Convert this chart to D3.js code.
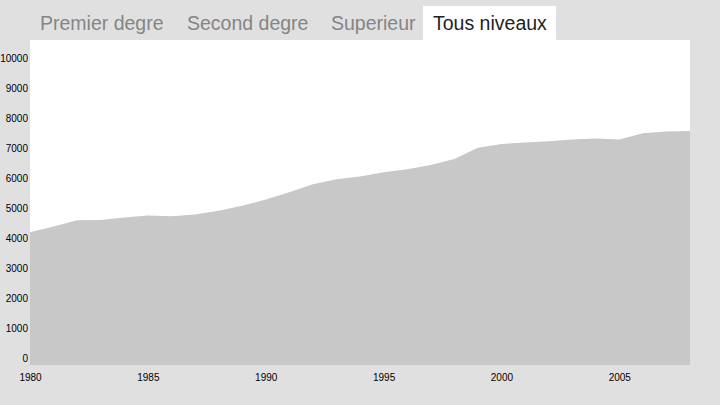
<!DOCTYPE html>
<html>
<head>
<meta charset="utf-8">
<script src="https://cdn.jsdelivr.net/npm/d3@7/dist/d3.min.js"></script>
<style>
  html, body { margin: 0; padding: 0; background: #e0e0e0; }
  svg { display: block; }
</style>
</head>
<body>
<svg id="chart" width="720" height="405"></svg>
<script>
const tabs = ["Premier degre", "Second degre", "Superieur", "Tous niveaux"];
const activeTab = 3;
const years = [1980,1981,1982,1983,1984,1985,1986,1987,1988,1989,1990,1991,1992,1993,1994,1995,1996,1997,1998,1999,2000,2001,2002,2003,2004,2005,2006,2007,2008];
const values = [4200,4390,4600,4610,4690,4760,4730,4790,4920,5080,5290,5530,5800,5965,6060,6200,6300,6440,6640,7010,7140,7190,7230,7290,7325,7290,7500,7550,7570];
const yTicks = [0,1000,2000,3000,4000,5000,6000,7000,8000,9000,10000];
const xTicks = [1980,1985,1990,1995,2000,2005];

const svg = d3.select("#chart");
const plot = {left: 30, right: 690, top: 40, bottom: 365};

// tabs (text start positions laid out like the reference tab bar)
const tabX = [40, 187, 331, 433];
const tabG = svg.append("g");
tabs.forEach((t, i) => {
  const g = tabG.append("g");
  const rect = g.append("rect");
  const txt = g.append("text")
    .attr("x", tabX[i]).attr("y", 30)
    .attr("font-family", "Liberation Sans, Arial, sans-serif")
    .attr("font-size", "19.5px")
    .attr("fill", i === activeTab ? "#222222" : "#858585")
    .text(t);
  const w = txt.node().getComputedTextLength();
  rect.attr("x", tabX[i] - 10).attr("y", 6).attr("width", Math.min(w + 20, 133)).attr("height", 34)
    .attr("fill", i === activeTab ? "#ffffff" : "none");
});

// plot background
svg.append("rect")
  .attr("x", plot.left).attr("y", plot.top)
  .attr("width", plot.right - plot.left).attr("height", plot.bottom - plot.top)
  .attr("fill", "#ffffff");

const x = d3.scaleLinear().domain([1980, 2008]).range([plot.left, plot.right]);
const y = d3.scaleLinear().domain([0, 10000]).range([358.5, 58]);

const data = years.map((yr, i) => ({year: yr, value: values[i]}));
const area = d3.area()
  .x(d => x(d.year))
  .y0(plot.bottom)
  .y1(d => y(d.value));

svg.append("path")
  .datum(data)
  .attr("d", area)
  .attr("fill", "#c8c8c8");

// y axis
const yAxis = svg.append("g")
  .attr("transform", `translate(${plot.left - 1},0)`)
  .call(d3.axisLeft(y).tickValues(yTicks).tickSize(0).tickPadding(1).tickFormat(d3.format("d")));
yAxis.select(".domain").remove();
yAxis.selectAll("text")
  .attr("font-family", "Liberation Sans, Arial, sans-serif")
  .attr("font-size", "10px")
  .attr("fill", "#000");

// x axis
const xAxis = svg.append("g")
  .attr("transform", `translate(0,${plot.bottom})`)
  .call(d3.axisBottom(x).tickValues(xTicks).tickSize(0).tickPadding(9).tickFormat(d3.format("d")));
xAxis.select(".domain").remove();
xAxis.selectAll("text")
  .attr("font-family", "Liberation Sans, Arial, sans-serif")
  .attr("font-size", "10px")
  .attr("fill", "#000");
</script>
</body>
</html>
